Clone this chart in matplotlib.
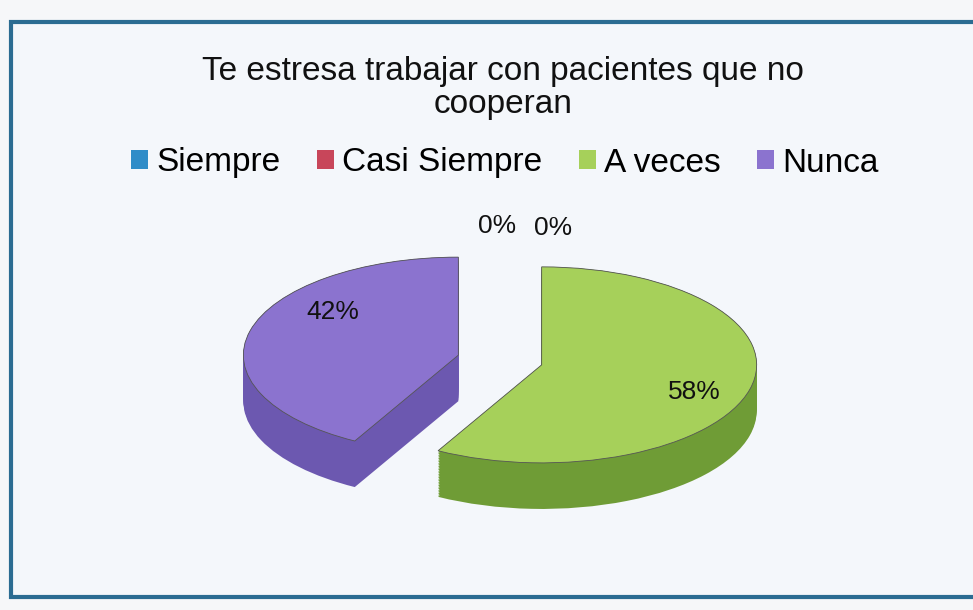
import numpy as np
import matplotlib
matplotlib.use("Agg")
import matplotlib.pyplot as plt
from matplotlib.patches import Rectangle

plt.rcParams['font.family'] = ['Liberation Sans', 'DejaVu Sans']

# ---- data ----
title = "Te estresa trabajar con pacientes que no\ncooperan"
categories = ["Siempre", "Casi Siempre", "A veces", "Nunca"]
values = [0, 0, 58, 42]
top_colors = ["#2f8cc8", "#c8465a", "#a6d05a", "#8b73cf"]
side_colors = ["#1f6a9a", "#9a3042", "#6f9c36", "#6c58b0"]
explode = [0.0, 0.0, 0.2, 0.2]

W, H = 973, 610
fig = plt.figure(figsize=(W / 100, H / 100), dpi=100)
fig.patch.set_facecolor("#f6f7f9")

# frame of the chart area (figure pixel coords)
frame_ax = fig.add_axes([0, 0, 1, 1])
frame_ax.set_xlim(0, W)
frame_ax.set_ylim(H, 0)
frame_ax.axis("off")
frame_ax.add_patch(Rectangle((11, 22), 1000, 575, facecolor="#f4f7fb",
                             edgecolor="#2b6c92", linewidth=3))

# pie axes: 1 data unit = rx px horizontally, ry px vertically
cx, cy = 500, 360
rx, ry = 215, 98
ax = fig.add_axes([0, 0, 1, 1])

depth = 0.47
for d in np.linspace(depth, 0.0, 30):
    ax.pie(values, explode=explode, colors=side_colors, startangle=90,
           counterclock=False, center=(0, -d), radius=1.0,
           wedgeprops=dict(linewidth=0), frame=True)
wedges, _ = ax.pie(values, explode=explode, colors=top_colors, startangle=90,
                   counterclock=False, center=(0, 0), radius=1.0,
                   wedgeprops=dict(linewidth=0.6, edgecolor="#555555"),
                   frame=True)
for w, v in zip(wedges, values):
    if v == 0:
        w.set_linewidth(0)
ax.set_aspect("auto")
ax.set_xlim(-cx / rx, (W - cx) / rx)
ax.set_ylim(-(H - cy) / ry, cy / ry)
ax.axis("off")

# percentage labels (figure pixel positions)
label_pos = [(497, 226), (553, 228), (694, 392), (333, 312)]
for v, (x, y) in zip(values, label_pos):
    fig.text(x / W, 1 - y / H, f"{v}%", ha="center", va="center",
             fontsize=19, color="#111111", zorder=10)

# title
fig.text(503 / W, 1 - 88 / H, title, ha="center", va="center", fontsize=24,
         color="#111111", linespacing=1.12, zorder=10)

# legend
leg = fig.legend(wedges, categories, ncol=4, loc="center",
                 bbox_to_anchor=(505 / W, 1 - 163 / H), frameon=False,
                 fontsize=24, handlelength=0.5, handleheight=0.5,
                 handletextpad=0.25, columnspacing=1.1)
for h in leg.legend_handles:
    h.set_linewidth(0)

fig.savefig("out.png", dpi=100, facecolor=fig.get_facecolor())
